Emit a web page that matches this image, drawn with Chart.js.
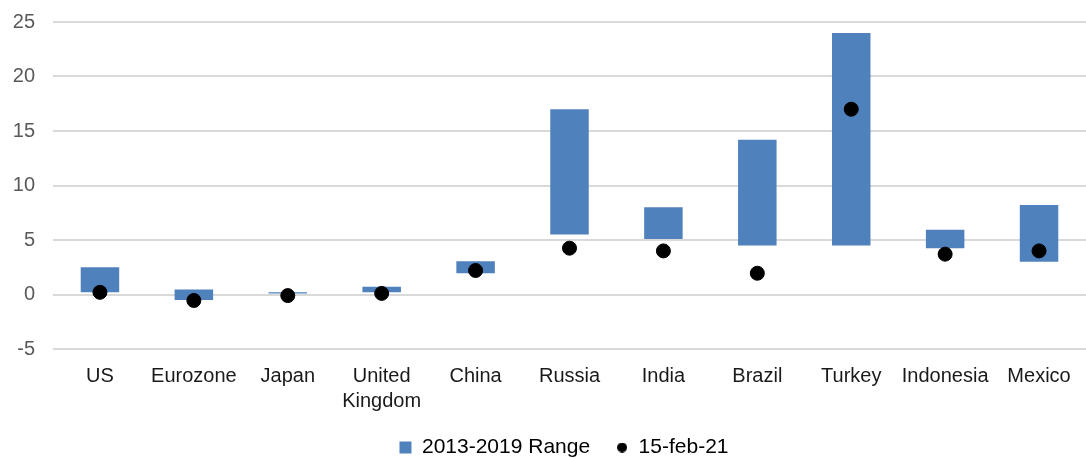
<!DOCTYPE html>
<html>
<head>
<meta charset="utf-8">
<script src="https://cdn.jsdelivr.net/npm/chart.js@4"></script>
<style>
  body { margin: 0; background: #fff; }
  #wrap { width: 1086px; height: 458px; }
</style>
</head>
<body>
<div id="wrap"><canvas id="rangeChart"></canvas></div>
<script>
const countries = ["US", "Eurozone", "Japan", ["United", "Kingdom"], "China", "Russia", "India", "Brazil", "Turkey", "Indonesia", "Mexico"];
const rangeLow = [0.2, -0.5, 0.0, 0.2, 1.95, 5.5, 5.1, 4.5, 4.5, 4.25, 3.0];
const rangeHigh = [2.5, 0.45, 0.2, 0.7, 3.05, 17.0, 8.0, 14.2, 24.0, 5.95, 8.2];
const feb21 = [0.2, -0.55, -0.1, 0.1, 2.2, 4.25, 4.0, 1.95, 17.0, 3.7, 4.0];
const yTicks = [-5, 0, 5, 10, 15, 20, 25];

// floating bars need [low, high] pairs
const rangeData = rangeLow.map((lo, i) => [lo, rangeHigh[i]]);

// small dot for the legend (the default circle is too big)
const legendDot = document.createElement("canvas");
legendDot.width = 10;
legendDot.height = 10;
const dctx = legendDot.getContext("2d");
dctx.fillStyle = "#000";
dctx.beginPath();
dctx.arc(5, 5, 5, 0, Math.PI * 2);
dctx.fill();

Chart.defaults.font.family = "'Liberation Sans', Arial, sans-serif";
Chart.defaults.font.size = 20;
Chart.defaults.color = "#595959";

// legend sits low and a bit right of centre in the original
const legendTweak = {
  id: "legendTweak",
  beforeInit(chart) {
    const legend = chart.legend;
    const fit = legend.fit;
    legend.fit = function () {
      fit.call(this);
      this.height -= 10;
    };
    const draw = legend.draw;
    legend.draw = function () {
      this.ctx.save();
      this.ctx.translate(21, 0);
      draw.call(this);
      this.ctx.restore();
    };
  },
};

const ctx = document.getElementById("rangeChart").getContext("2d");
new Chart(ctx, {
  type: "bar",
  data: {
    labels: countries,
    datasets: [
      {
        label: "2013-2019 Range",
        data: rangeData,
        backgroundColor: "#4f81bd",
        borderWidth: 0,
        barPercentage: 0.41,
        categoryPercentage: 1,
        pointStyle: "rect",
        order: 1,
      },
      {
        label: "15-feb-21",
        type: "line",
        data: feb21,
        showLine: false,
        pointRadius: 7,
        pointHoverRadius: 7,
        pointBackgroundColor: "#000",
        pointBorderColor: "#000",
        pointStyle: "circle",
        order: 0,
      },
    ],
  },
  plugins: [legendTweak],
  options: {
    responsive: true,
    maintainAspectRatio: false,
    animation: false,
    layout: { autoPadding: false, padding: { top: 22, left: 0, right: 0, bottom: 0 } },
    scales: {
      x: {
        grid: { display: false, drawTicks: false },
        border: { display: false },
        ticks: { autoSkip: false, maxRotation: 0, padding: 15, color: "#1a1a1a", font: { lineHeight: 1.25 } },
        afterFit: (axis) => {
          axis.paddingLeft = 0;
          axis.paddingRight = 0;
          axis.height = 62;
        },
      },
      y: {
        min: -5,
        max: 25,
        afterBuildTicks: (axis) => {
          axis.ticks = yTicks.map(v => ({ value: v }));
        },
        afterFit: (axis) => {
          axis.width = 53;
          axis.paddingTop = 0;
          axis.paddingBottom = 0;
        },
        grid: { color: "#d9d9d9", lineWidth: 2, drawTicks: false },
        border: { display: false },
        ticks: { padding: 18 },
      },
    },
    plugins: {
      legend: {
        position: "bottom",
        labels: {
          usePointStyle: true,
          boxWidth: 12,
          boxHeight: 12,
          padding: 26,
          color: "#000",
          font: { size: 21 },
          sort: (a, b) => a.datasetIndex - b.datasetIndex,
          generateLabels: (chart) => {
            const items = Chart.defaults.plugins.legend.labels.generateLabels(chart);
            items.forEach(item => {
              if (item.datasetIndex === 1) item.pointStyle = legendDot;
            });
            return items;
          },
        },
      },
      tooltip: { enabled: false },
    },
  },
});
</script>
</body>
</html>
